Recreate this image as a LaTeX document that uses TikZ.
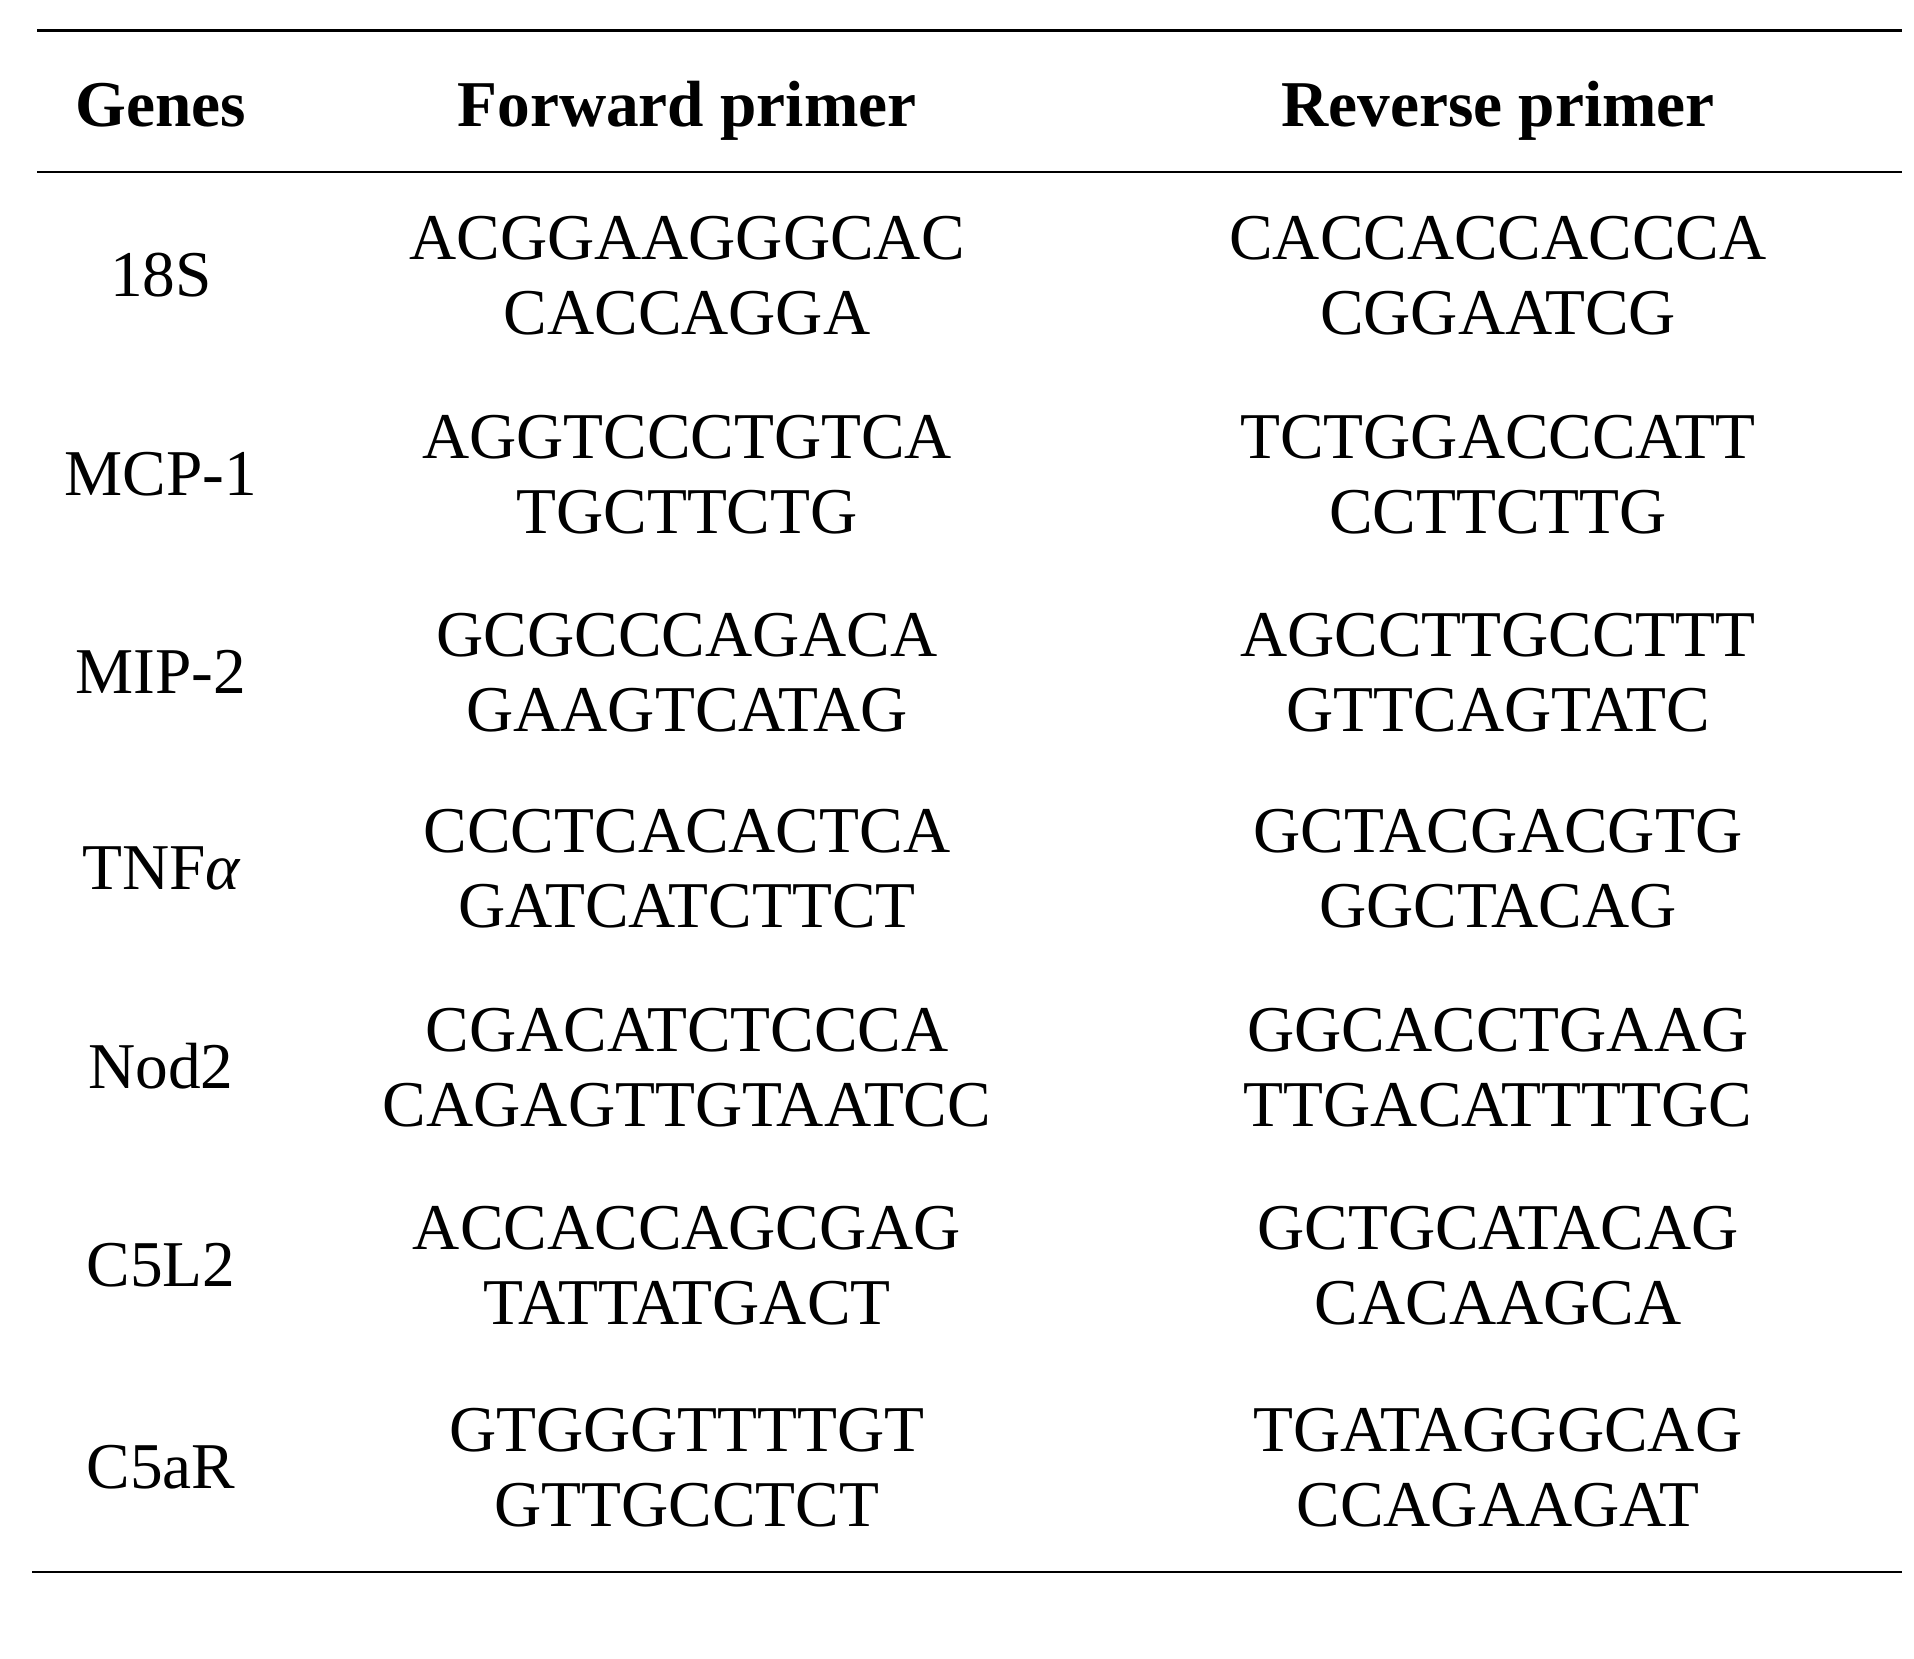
\documentclass[tikz,border=0pt]{standalone}
\usepackage{fontspec}
\setmainfont{Liberation Serif}

\begin{document}
\begin{tikzpicture}[x=0.3pt,y=-0.3pt,
  cell/.style={anchor=base,inner sep=0pt,font=\fontsize{19.6}{22}\selectfont},
  head/.style={cell,font=\fontsize{19.6}{22}\selectfont\bfseries},
  rule/.style={line width=0.8pt}]
  \useasboundingbox (0,0) rectangle (1914,1658);
  \draw[rule] (37,30.5) -- (1902,30.5);
  \draw[rule] (37,172) -- (1902,172);
  \draw[rule] (32,1572) -- (1902,1572);
  \node[head](genes) at (161,126){Genes};
  \node[head](fwd) at (687,126){Forward primer};
  \node[head](rev) at (1498,126){Reverse primer};
  \foreach \y/\g/\fa/\fb/\ra/\rb [count=\i] in {
    259/18S/ACGGAAGGGCAC/CACCAGGA/CACCACCACCCA/CGGAATCG,
    458/MCP-1/AGGTCCCTGTCA/TGCTTCTG/TCTGGACCCATT/CCTTCTTG,
    656/MIP-2/GCGCCCAGACA/GAAGTCATAG/AGCCTTGCCTTT/GTTCAGTATC,
    852/{TNF{\itshape α}}/CCCTCACACTCA/GATCATCTTCT/GCTACGACGTG/GGCTACAG,
    1051/Nod2/CGACATCTCCCA/CAGAGTTGTAATCC/GGCACCTGAAG/TTGACATTTTGC,
    1249/C5L2/ACCACCAGCGAG/TATTATGACT/GCTGCATACAG/CACAAGCA,
    1451/C5aR/GTGGGTTTTGT/GTTGCCTCT/TGATAGGGCAG/CCAGAAGAT}{
    \node[cell](gene\i) at (161,\y+37.5){\g};
    \node[cell](fwd\i a) at (687,\y){\fa};
    \node[cell](fwd\i b) at (687,\y+75){\fb};
    \node[cell](rev\i a) at (1498,\y){\ra};
    \node[cell](rev\i b) at (1498,\y+75){\rb};
  }
\end{tikzpicture}
\end{document}
